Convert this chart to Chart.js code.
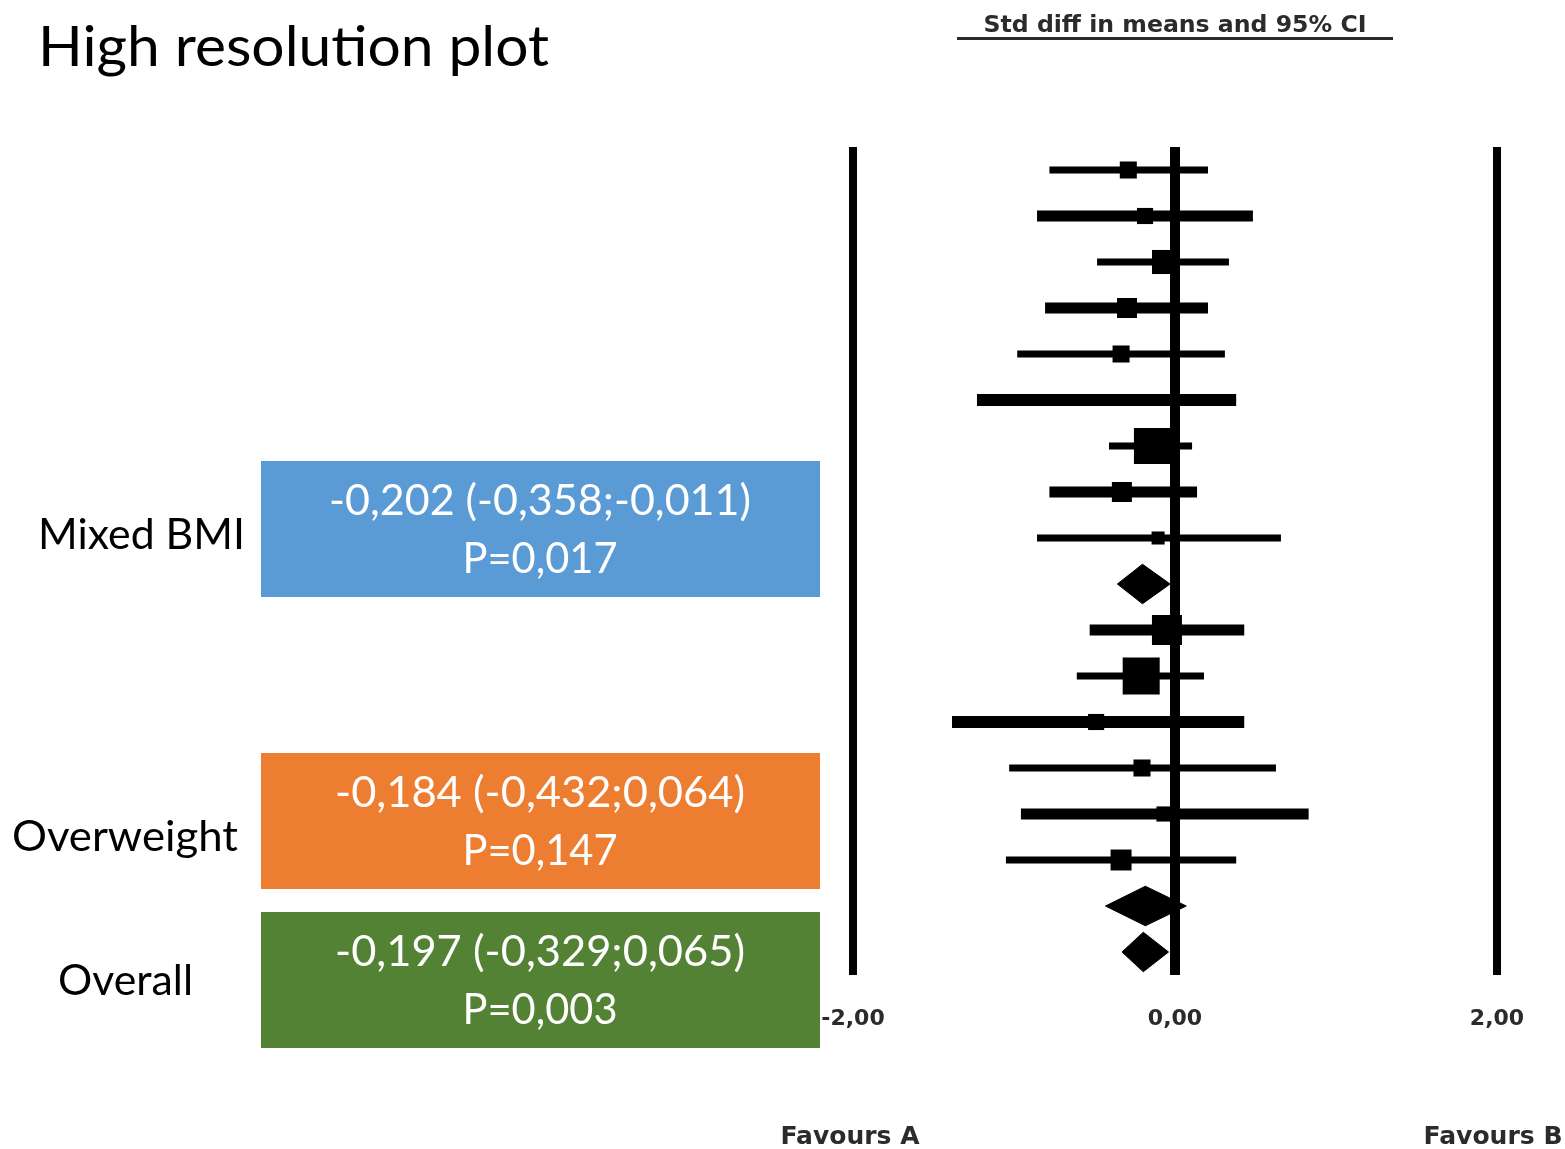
<!DOCTYPE html>
<html>
<head>
<meta charset="utf-8">
<script src="https://cdn.jsdelivr.net/npm/chart.js@4"></script>
<style>
  html, body { margin: 0; padding: 0; background: #ffffff; overflow: hidden; }
  #wrap { width: 1565px; height: 1149px; position: relative; }
</style>
</head>
<body>
<div id="wrap"><canvas id="c"></canvas></div>
<script>
// ---------------- DATA ----------------
const studyRows   = [1, 2, 3, 4, 5, 6, 7, 8, 9, 11, 12, 13, 14, 15, 16];
const studyEst    = [-0.29, -0.186, -0.068, -0.298, -0.335, -0.43, -0.143, -0.33, -0.105, -0.05, -0.21, -0.49, -0.205, -0.068, -0.335];
const studyLow    = [-0.78, -0.857, -0.484, -0.807, -0.98, -1.23, -0.41, -0.78, -0.857, -0.53, -0.61, -1.385, -1.03, -0.957, -1.05];
const studyHigh   = [0.205, 0.484, 0.335, 0.205, 0.31, 0.38, 0.106, 0.137, 0.658, 0.43, 0.18, 0.43, 0.627, 0.83, 0.38];
const studyWeight = [2.9, 2.6, 5.8, 4.0, 2.9, 1.0, 13.0, 4.0, 1.7, 9.0, 13.7, 2.6, 2.9, 2.3, 4.4];

const summaryNames = ['Mixed BMI', 'Overweight', 'Overall'];
const summaryRows  = [10, 17, 18];
const summaryEst   = [-0.202, -0.184, -0.197];
const summaryLow   = [-0.358, -0.432, -0.329];
const summaryHigh  = [-0.03, 0.07, -0.04];
const summaryCI    = ['-0,202 (-0,358;-0,011)', '-0,184 (-0,432;0,064)', '-0,197 (-0,329;0,065)'];
const summaryP     = ['P=0,017', 'P=0,147', 'P=0,003'];

const refLines   = [-2, 0, 2];
const xTicks     = [-2, 0, 2];
const favourLabels = ['Favours A', 'Favours B'];
const pageTitle  = 'High resolution plot';
const axisTitle  = 'Std diff in means and 95% CI';

// ---------------- STYLE ----------------
const ciWidths = [7, 11, 7, 11, 7, 12, 7, 11, 7, 11, 7, 12, 7, 11, 7];
const refWidths = [8, 10, 8];
const boxColors = ['#5B9BD5', '#ED7D31', '#548235'];
const diamondHalf = 0.43;
const rowCount = 18;

const datasets = [];
refLines.forEach((v, i) => {
  datasets.push({
    type: 'line', data: [{x: v, y: 0.5}, {x: v, y: rowCount + 0.5}],
    borderColor: '#000', borderWidth: refWidths[i], pointRadius: 0,
    borderCapStyle: 'butt', clip: false, fill: false
  });
});
studyRows.forEach((r, i) => {
  datasets.push({
    type: 'line', data: [{x: studyLow[i], y: r}, {x: studyHigh[i], y: r}],
    borderColor: '#000', borderWidth: ciWidths[i], pointRadius: 0,
    borderCapStyle: 'butt', clip: false, fill: false
  });
});
datasets.push({
  type: 'scatter',
  data: studyRows.map((r, i) => ({x: studyEst[i], y: r})),
  pointStyle: 'rect',
  pointRadius: studyWeight.map(w => 10 * Math.sqrt(w) / 1.4142),
  backgroundColor: '#000', borderWidth: 0, clip: false
});
summaryRows.forEach((r, i) => {
  datasets.push({
    type: 'line',
    data: [
      {x: summaryLow[i], y: r},
      {x: summaryEst[i], y: r - diamondHalf},
      {x: summaryHigh[i], y: r},
      {x: summaryEst[i], y: r + diamondHalf},
      {x: summaryLow[i], y: r}
    ],
    borderColor: '#000', backgroundColor: '#000', borderWidth: 1,
    pointRadius: 0, fill: 'shape', tension: 0, clip: false
  });
});

function fitText(ctx, text, x, baseline, width, font, color, align) {
  ctx.save();
  ctx.font = font;
  const m = ctx.measureText(text).width;
  const f = width / m;
  const left = align === 'center' ? x - width / 2 : x;
  ctx.translate(left, baseline);
  ctx.scale(f, 1);
  ctx.textAlign = 'left';
  ctx.textBaseline = 'alphabetic';
  ctx.fillStyle = color;
  ctx.fillText(text, 0, 0);
  ctx.restore();
}

const decorPlugin = {
  id: 'decor',
  afterDraw(chart) {
    const ctx = chart.ctx;
    const xs = chart.scales.x;
    const cal = (s) => s + 'px Lato';
    // page title
    fitText(ctx, pageTitle, 38, 66, 511, cal(57), '#000', 'left');
    // summary boxes
    const boxTops = [461, 753, 912];
    const nameLefts = [38, 12, 58];
    const nameWidths = [207, 226, 135];
    const nameBase = [549, 851, 995];
    const ciW = [422, 410, 410];
    boxTops.forEach((t, i) => {
      ctx.fillStyle = boxColors[i];
      ctx.fillRect(261, t, 559, 136);
      fitText(ctx, summaryCI[i], 540, t + 54, ciW[i], cal(42), '#fff', 'center');
      fitText(ctx, summaryP[i], 540, t + 112, 155, cal(42), '#fff', 'center');
      fitText(ctx, summaryNames[i], nameLefts[i], nameBase[i], nameWidths[i], cal(43), '#000', 'left');
    });
    // axis title with underline
    const cx = xs.getPixelForValue(0);
    fitText(ctx, axisTitle, cx, 32, 383, 'bold 23px "DejaVu Sans"', '#2b2b2b', 'center');
    ctx.fillStyle = '#2b2b2b';
    ctx.fillRect(cx - 218, 37, 436, 3);
    // favours labels
    const fa = xs.getPixelForValue(-2), fb = xs.getPixelForValue(2);
    fitText(ctx, favourLabels[0], fa - 3, 1144, 139, 'bold 24px "DejaVu Sans"', '#2b2b2b', 'center');
    fitText(ctx, favourLabels[1], fb - 4, 1144, 139, 'bold 24px "DejaVu Sans"', '#2b2b2b', 'center');
  }
};

new Chart(document.getElementById('c'), {
  type: 'scatter',
  data: { datasets },
  plugins: [decorPlugin],
  options: {
    responsive: true,
    maintainAspectRatio: false,
    animation: false,
    layout: { padding: { left: 853, right: 68, top: 147, bottom: 0 } },
    plugins: { legend: { display: false }, tooltip: { enabled: false }, title: { display: false } },
    scales: {
      x: {
        type: 'linear', min: -2, max: 2,
        afterBuildTicks: (s) => { s.ticks = xTicks.map(v => ({value: v})); },
        afterFit: (s) => { s.height = 174; },
        grid: { display: false, drawTicks: false },
        border: { display: false },
        ticks: {
          padding: 31, color: '#2b2b2b',
          font: { family: 'DejaVu Sans', weight: 'bold', size: 22 },
          callback: (v) => Number(v).toFixed(2).replace('.', ',')
        }
      },
      y: {
        type: 'linear', reverse: true, min: 0.5, max: rowCount + 0.5,
        display: false
      }
    }
  }
});
</script>
</body>
</html>
